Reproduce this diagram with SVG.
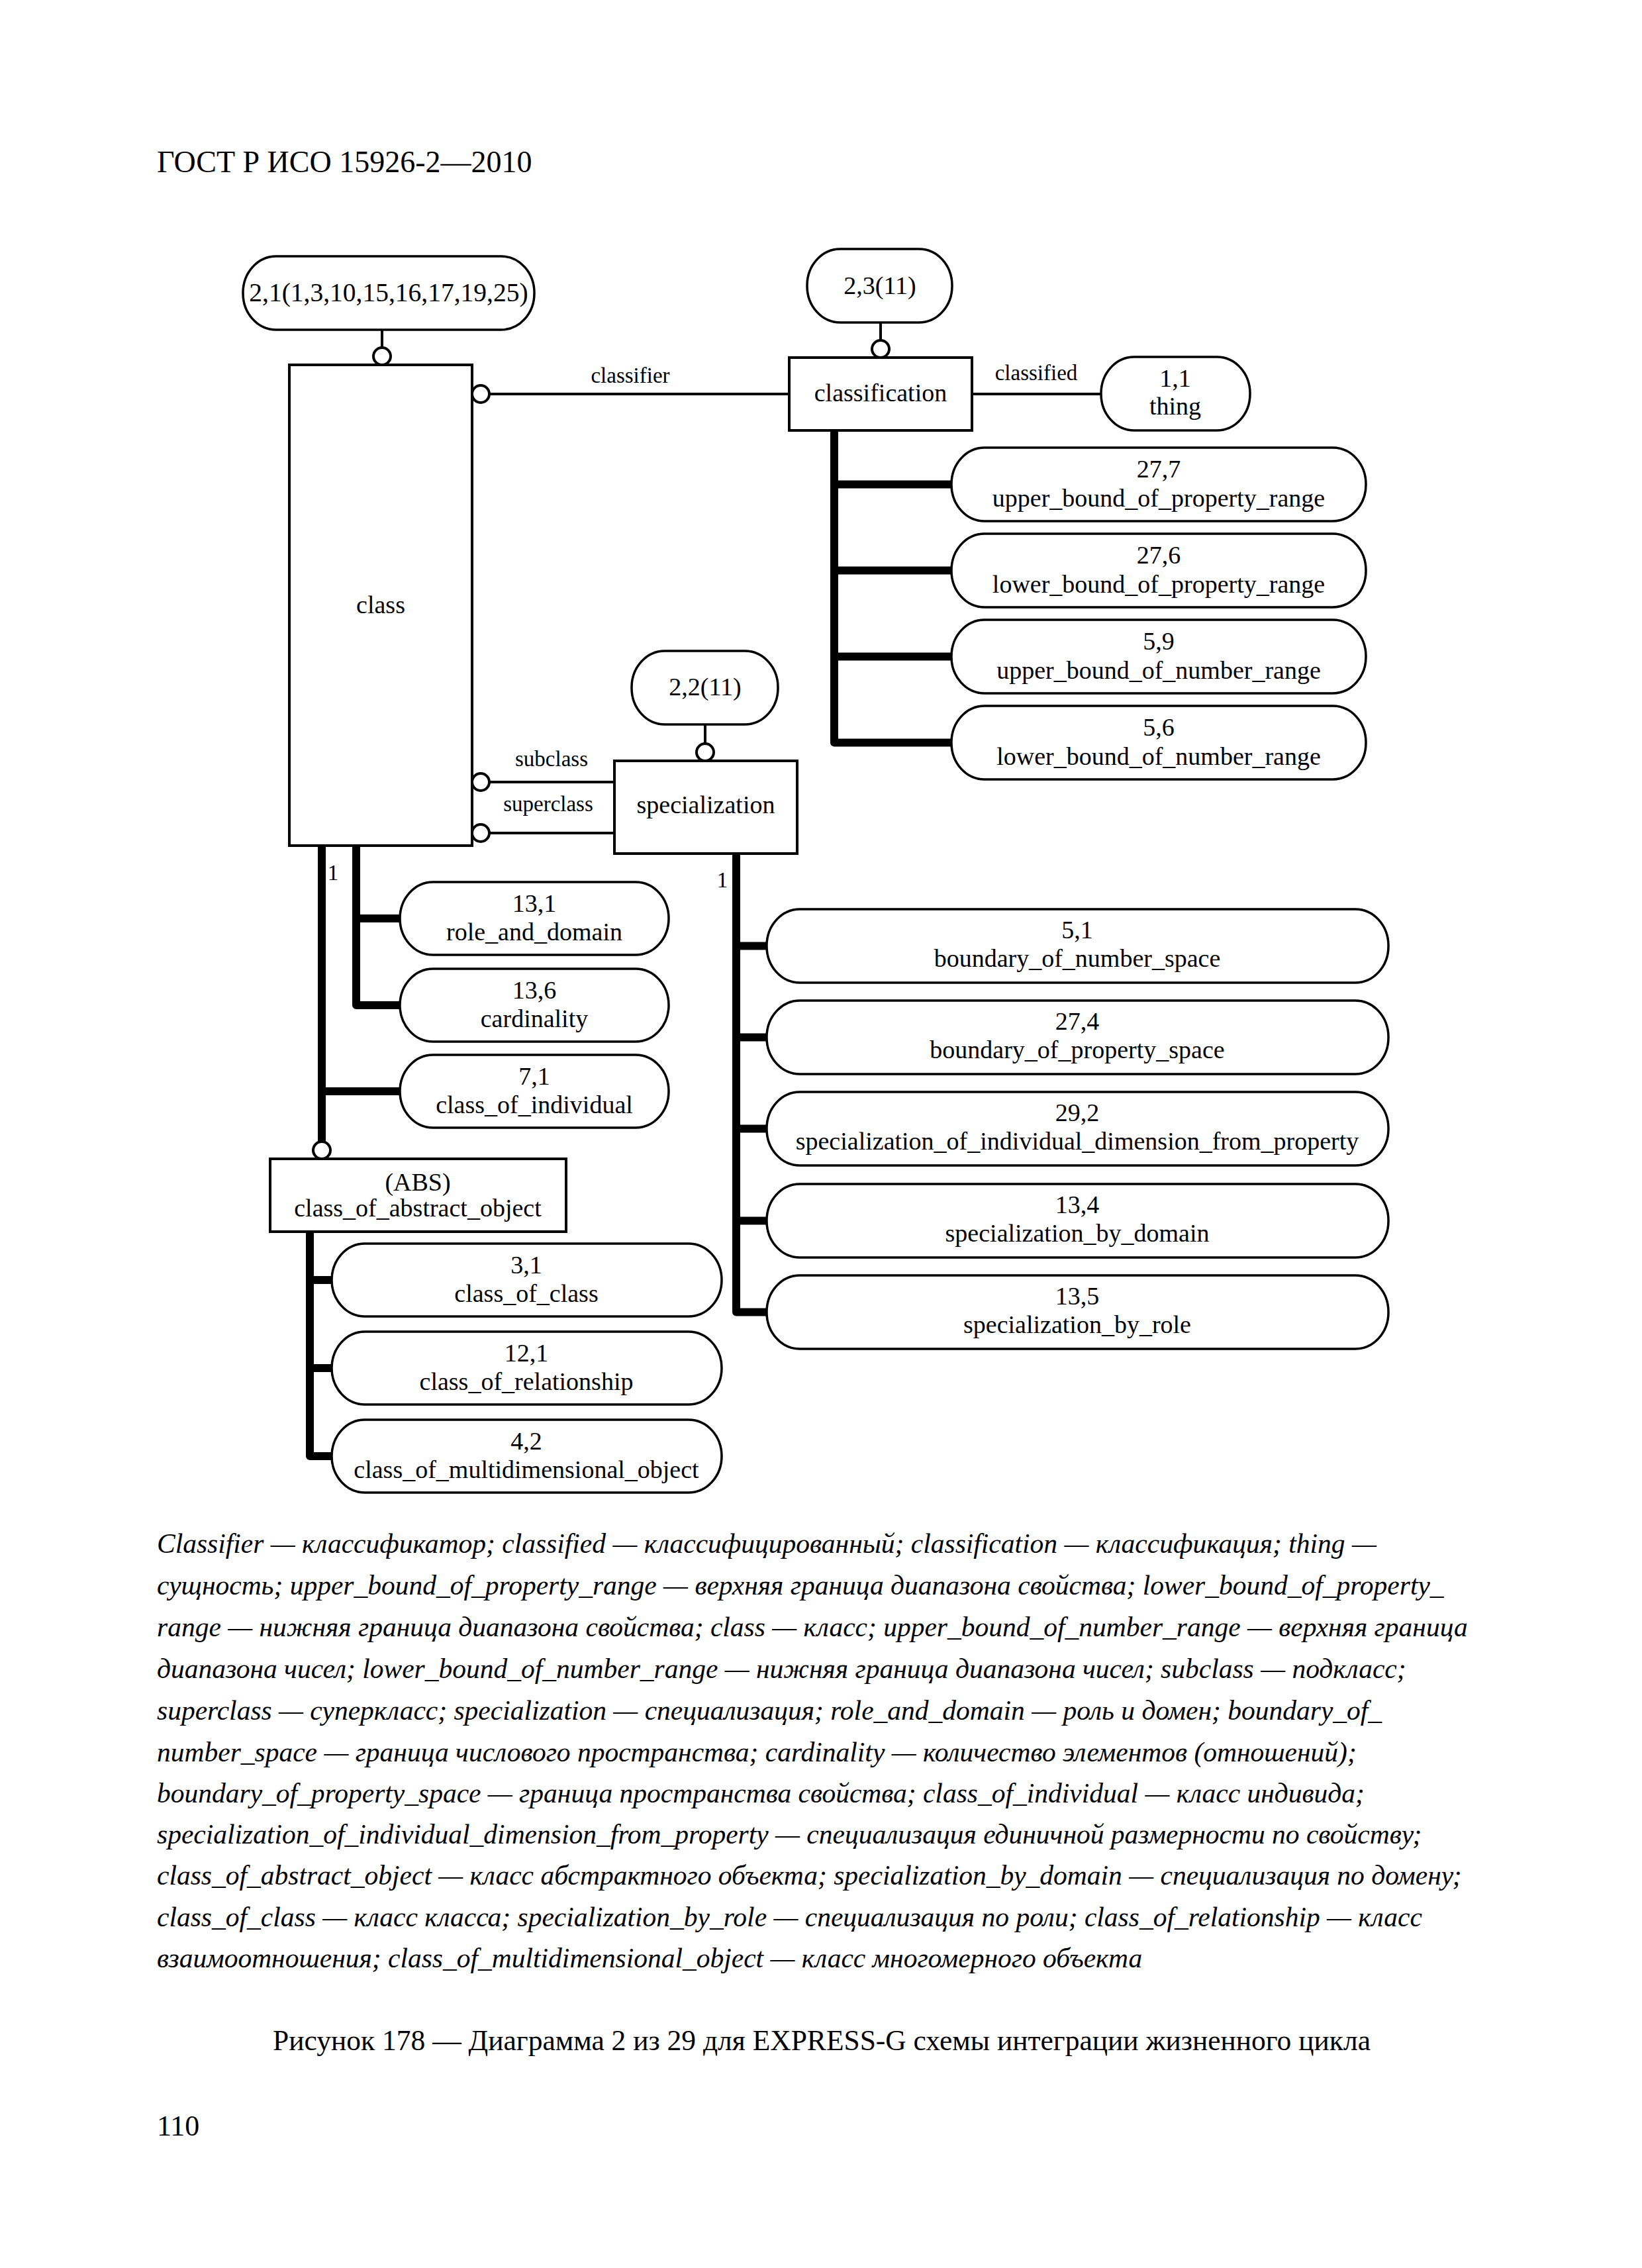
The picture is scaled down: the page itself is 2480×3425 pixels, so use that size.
<svg xmlns="http://www.w3.org/2000/svg" width="2480" height="3425" viewBox="0 0 2480 3425">
<style>
.bg{fill:#ffffff}
.box{fill:#ffffff;stroke:#000;stroke-width:4}
.rbox{fill:#ffffff;stroke:#000;stroke-width:3.5}
.t{font-family:"Liberation Serif","Times New Roman",serif;font-size:38px;fill:#000;text-anchor:middle}
.lbl{font-family:"Liberation Serif","Times New Roman",serif;font-size:33px;fill:#000;text-anchor:middle}
.thin{stroke:#000;stroke-width:4;fill:none}
.thick{stroke:#000;stroke-width:12;fill:none;stroke-linecap:round;stroke-linejoin:round}
.ring{fill:#fff;stroke:#000;stroke-width:4}
.hdr{font-family:"Liberation Serif","Times New Roman",serif;font-size:46px;fill:#000}
.leg{font-family:"Liberation Serif","Times New Roman",serif;font-size:41.5px;font-style:italic;fill:#000}
.cap{font-family:"Liberation Serif","Times New Roman",serif;font-size:43.5px;fill:#000;text-anchor:middle}
</style>
<rect class="bg" x="0" y="0" width="2480" height="3425"/>
<text class="hdr" x="237" y="260">ГОСТ Р ИСО 15926-2—2010</text>

<g id="connectors">
  <line class="thin" x1="577" y1="498" x2="577" y2="525"/>
  <circle class="ring" cx="577" cy="538" r="13"/>
  <line class="thin" x1="1330" y1="487" x2="1330" y2="514"/>
  <circle class="ring" cx="1330" cy="527" r="13"/>
  <line class="thin" x1="1065" y1="1094" x2="1065" y2="1123"/>
  <circle class="ring" cx="1065" cy="1136" r="13"/>

  <line class="thin" x1="739" y1="595" x2="1192" y2="595"/>
  <circle class="ring" cx="726" cy="595" r="13"/>
  <text class="lbl" x="952" y="578">classifier</text>
  <line class="thin" x1="1468" y1="595" x2="1663" y2="595"/>
  <text class="lbl" x="1565" y="574">classified</text>

  <line class="thin" x1="739" y1="1181" x2="928" y2="1181"/>
  <circle class="ring" cx="726" cy="1181" r="13"/>
  <text class="lbl" x="833" y="1157">subclass</text>
  <line class="thin" x1="739" y1="1258" x2="928" y2="1258"/>
  <circle class="ring" cx="726" cy="1258" r="13"/>
  <text class="lbl" x="828" y="1225">superclass</text>

  <path class="thick" d="M1260,650 V1121.5 H1437"/>
  <line class="thick" x1="1260" y1="731.5" x2="1437" y2="731.5"/>
  <line class="thick" x1="1260" y1="861.5" x2="1437" y2="861.5"/>
  <line class="thick" x1="1260" y1="991.5" x2="1437" y2="991.5"/>

  <path class="thick" d="M538,1277 V1518 H604"/>
  <line class="thick" x1="538" y1="1387" x2="604" y2="1387"/>
  <path class="thick" d="M486,1277 V1722"/>
  <line class="thick" x1="486" y1="1648" x2="604" y2="1648"/>
  <circle class="ring" cx="486" cy="1737" r="13"/>
  <text class="lbl" x="503" y="1329">1</text>

  <path class="thick" d="M468,1860 V2199 H501"/>
  <line class="thick" x1="468" y1="1933" x2="501" y2="1933"/>
  <line class="thick" x1="468" y1="2066" x2="501" y2="2066"/>

  <path class="thick" d="M1112,1289 V1981.5 H1158"/>
  <line class="thick" x1="1112" y1="1428.5" x2="1158" y2="1428.5"/>
  <line class="thick" x1="1112" y1="1566.5" x2="1158" y2="1566.5"/>
  <line class="thick" x1="1112" y1="1704.5" x2="1158" y2="1704.5"/>
  <line class="thick" x1="1112" y1="1843.5" x2="1158" y2="1843.5"/>
  <text class="lbl" x="1091" y="1340">1</text>
</g>

<g id="n2_1">
  <rect class="rbox" x="367" y="387" width="440" height="111" rx="50" ry="55"/>
  <text class="t" x="587" y="455" style="font-size:39.5px">2,1(1,3,10,15,16,17,19,25)</text>
</g>
<g id="n2_3">
  <rect class="rbox" x="1219" y="376" width="219" height="111" rx="50" ry="55"/>
  <text class="t" x="1329" y="444">2,3(11)</text>
</g>
<g id="n2_2">
  <rect class="rbox" x="954" y="983" width="221" height="111" rx="50" ry="55"/>
  <text class="t" x="1065" y="1050">2,2(11)</text>
</g>
<g id="class">
  <rect class="box" x="437" y="551" width="276" height="726"/>
  <text class="t" x="575" y="926">class</text>
</g>
<g id="classification">
  <rect class="box" x="1192" y="540" width="276" height="110"/>
  <text class="t" x="1330" y="606">classification</text>
</g>
<g id="thing">
  <rect class="rbox" x="1663" y="539" width="225" height="111" rx="50" ry="55"/>
  <text class="t" x="1775" y="584">1,1</text>
  <text class="t" x="1775" y="626">thing</text>
</g>
<g id="upper_bound_of_property_range">
  <rect class="rbox" x="1437" y="676" width="626" height="111" rx="50" ry="55"/>
  <text class="t" x="1750" y="721">27,7</text>
  <text class="t" x="1750" y="765">upper_bound_of_property_range</text>
</g>
<g id="lower_bound_of_property_range">
  <rect class="rbox" x="1437" y="806" width="626" height="111" rx="50" ry="55"/>
  <text class="t" x="1750" y="851">27,6</text>
  <text class="t" x="1750" y="895">lower_bound_of_property_range</text>
</g>
<g id="upper_bound_of_number_range">
  <rect class="rbox" x="1437" y="936" width="626" height="111" rx="50" ry="55"/>
  <text class="t" x="1750" y="981">5,9</text>
  <text class="t" x="1750" y="1025">upper_bound_of_number_range</text>
</g>
<g id="lower_bound_of_number_range">
  <rect class="rbox" x="1437" y="1066" width="626" height="111" rx="50" ry="55"/>
  <text class="t" x="1750" y="1111">5,6</text>
  <text class="t" x="1750" y="1155">lower_bound_of_number_range</text>
</g>
<g id="specialization">
  <rect class="box" x="928" y="1149" width="276" height="140"/>
  <text class="t" x="1066" y="1228">specialization</text>
</g>
<g id="role_and_domain">
  <rect class="rbox" x="604" y="1332" width="406" height="110" rx="50" ry="55"/>
  <text class="t" x="807" y="1377">13,1</text>
  <text class="t" x="807" y="1420">role_and_domain</text>
</g>
<g id="cardinality">
  <rect class="rbox" x="604" y="1463" width="406" height="110" rx="50" ry="55"/>
  <text class="t" x="807" y="1508">13,6</text>
  <text class="t" x="807" y="1551">cardinality</text>
</g>
<g id="class_of_individual">
  <rect class="rbox" x="604" y="1593" width="406" height="110" rx="50" ry="55"/>
  <text class="t" x="807" y="1638">7,1</text>
  <text class="t" x="807" y="1681">class_of_individual</text>
</g>
<g id="class_of_abstract_object">
  <rect class="box" x="408" y="1750" width="447" height="110"/>
  <text class="t" x="631" y="1798">(ABS)</text>
  <text class="t" x="631" y="1837">class_of_abstract_object</text>
</g>
<g id="class_of_class">
  <rect class="rbox" x="501" y="1878" width="589" height="110" rx="50" ry="55"/>
  <text class="t" x="795" y="1923">3,1</text>
  <text class="t" x="795" y="1966">class_of_class</text>
</g>
<g id="class_of_relationship">
  <rect class="rbox" x="501" y="2011" width="589" height="110" rx="50" ry="55"/>
  <text class="t" x="795" y="2056">12,1</text>
  <text class="t" x="795" y="2099">class_of_relationship</text>
</g>
<g id="class_of_multidimensional_object">
  <rect class="rbox" x="501" y="2144" width="589" height="110" rx="50" ry="55"/>
  <text class="t" x="795" y="2189">4,2</text>
  <text class="t" x="795" y="2232">class_of_multidimensional_object</text>
</g>
<g id="boundary_of_number_space">
  <rect class="rbox" x="1158" y="1373" width="939" height="111" rx="50" ry="55"/>
  <text class="t" x="1627" y="1417">5,1</text>
  <text class="t" x="1627" y="1460">boundary_of_number_space</text>
</g>
<g id="boundary_of_property_space">
  <rect class="rbox" x="1158" y="1511" width="939" height="111" rx="50" ry="55"/>
  <text class="t" x="1627" y="1555">27,4</text>
  <text class="t" x="1627" y="1598">boundary_of_property_space</text>
</g>
<g id="specialization_of_individual_dimension_from_property">
  <rect class="rbox" x="1158" y="1649" width="939" height="111" rx="50" ry="55"/>
  <text class="t" x="1627" y="1693">29,2</text>
  <text class="t" x="1627" y="1736">specialization_of_individual_dimension_from_property</text>
</g>
<g id="specialization_by_domain">
  <rect class="rbox" x="1158" y="1788" width="939" height="111" rx="50" ry="55"/>
  <text class="t" x="1627" y="1832">13,4</text>
  <text class="t" x="1627" y="1875">specialization_by_domain</text>
</g>
<g id="specialization_by_role">
  <rect class="rbox" x="1158" y="1926" width="939" height="111" rx="50" ry="55"/>
  <text class="t" x="1627" y="1970">13,5</text>
  <text class="t" x="1627" y="2013">specialization_by_role</text>
</g>

<g id="legend">
  <text class="leg" x="237" y="2345">Classifier — классификатор; classified — классифицированный; classification — классификация; thing —</text>
  <text class="leg" x="237" y="2408">сущность; upper_bound_of_property_range — верхняя граница диапазона свойства; lower_bound_of_property_</text>
  <text class="leg" x="237" y="2471">range — нижняя граница диапазона свойства; class — класс; upper_bound_of_number_range — верхняя граница</text>
  <text class="leg" x="237" y="2534">диапазона чисел; lower_bound_of_number_range — нижняя граница диапазона чисел; subclass — подкласс;</text>
  <text class="leg" x="237" y="2597">superclass — суперкласс; specialization — специализация; role_and_domain — роль и домен; boundary_of_</text>
  <text class="leg" x="237" y="2660">number_space — граница числового пространства; cardinality — количество элементов (отношений);</text>
  <text class="leg" x="237" y="2722">boundary_of_property_space — граница пространства свойства; class_of_individual — класс индивида;</text>
  <text class="leg" x="237" y="2784">specialization_of_individual_dimension_from_property — специализация единичной размерности по свойству;</text>
  <text class="leg" x="237" y="2846">class_of_abstract_object — класс абстрактного объекта; specialization_by_domain — специализация по домену;</text>
  <text class="leg" x="237" y="2909">class_of_class — класс класса; specialization_by_role — специализация по роли; class_of_relationship — класс</text>
  <text class="leg" x="237" y="2971">взаимоотношения; class_of_multidimensional_object — класс многомерного объекта</text>
</g>
<text class="cap" x="1241" y="3096">Рисунок 178 — Диаграмма 2 из 29 для EXPRESS-G схемы интеграции жизненного цикла</text>
<text class="hdr" x="237" y="3225" style="font-size:44px">110</text>
</svg>
